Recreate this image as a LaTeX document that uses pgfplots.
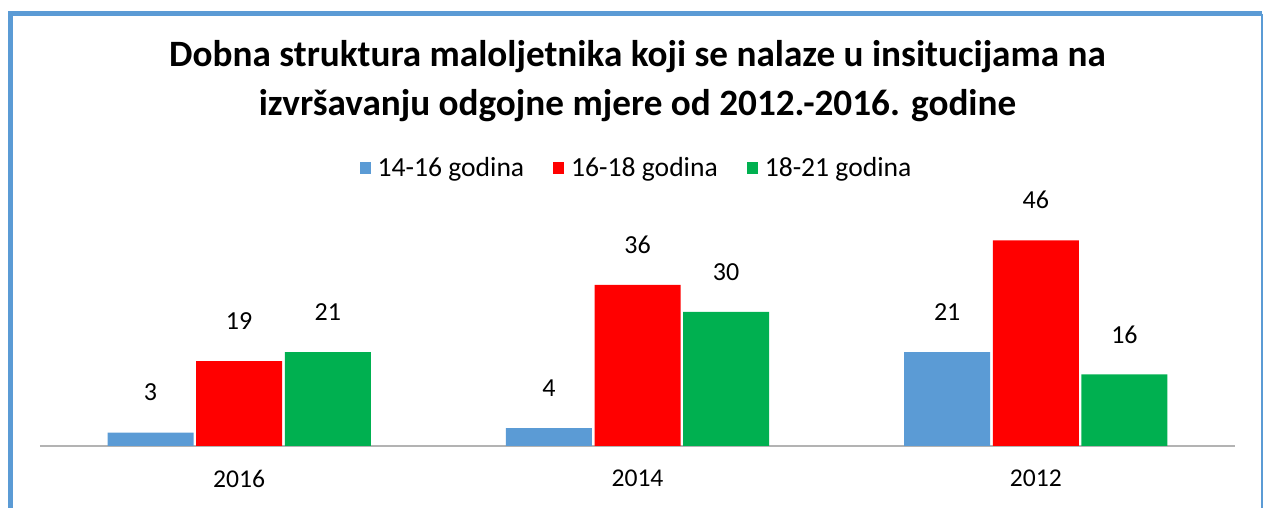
\documentclass[border=0pt]{standalone}
\usepackage{pgfplots}
\pgfplotsset{compat=1.18}
\usepackage{fontspec}
\setmainfont{Carlito}
\definecolor{cblue}{HTML}{5B9BD5}
\definecolor{cred}{HTML}{FF0000}
\definecolor{cgreen}{HTML}{00B050}
\definecolor{cgray}{HTML}{B3B3B3}
\begin{document}
\begin{tikzpicture}
\path[use as bounding box] (0,0) rectangle (631.5pt,254pt);
\draw[cblue, line width=2.5pt] (5.25pt,0) -- (5.25pt,247pt) -- (631pt,247pt);
\draw[cblue, line width=1.2pt] (630.9pt,247pt) -- (630.9pt,0);
\begin{axis}[
  at={(20pt,31pt)}, anchor=south west,
  scale only axis, width=597.5pt, height=123pt,
  xmin=-0.5, xmax=2.5, ymin=0, ymax=55,
  ybar=1.3pt, bar width=43pt,
  /pgf/number format/assume math mode=true,
  axis x line*=bottom, axis y line=none,
  x axis line style={cgray, line width=1pt, -},
  xtick={0,1,2}, xticklabels={2016,2014,2012},
  major tick length=0pt,
  xticklabel style={font=\fontsize{12.8}{14}\selectfont, yshift=-8.5pt},
  nodes near coords,
  every node near coord/.append style={font=\fontsize{13}{14}\selectfont, anchor=center, yshift=20pt, black},
  title={Dobna struktura maloljetnika koji se nalaze u insitucijama na\\izvršavanju odgojne mjere od 2012.-2016. godine},
  title style={font=\bfseries\fontsize{18.6}{24.5}\selectfont, align=center, at={(0.5,1)}, anchor=center, yshift=53.5pt},
  legend style={at={(0.5,1.13)}, anchor=center, draw=none, font=\fontsize{13.8}{15}\selectfont, legend columns=-1,
    /tikz/every even column/.append style={column sep=12.5pt}},
  legend image code/.code={\fill[#1] (0pt,-2.8pt) rectangle (5.6pt,2.8pt); \path (7pt,0pt);},
]
\addplot[fill=cblue, draw=none] coordinates {(0,3) (1,4) (2,21)};
\addplot[fill=cred, draw=none] coordinates {(0,19) (1,36) (2,46)};
\addplot[fill=cgreen, draw=none] coordinates {(0,21) (1,30) (2,16)};
\legend{14-16 godina,16-18 godina,18-21 godina}
\end{axis}
\end{tikzpicture}
\end{document}
